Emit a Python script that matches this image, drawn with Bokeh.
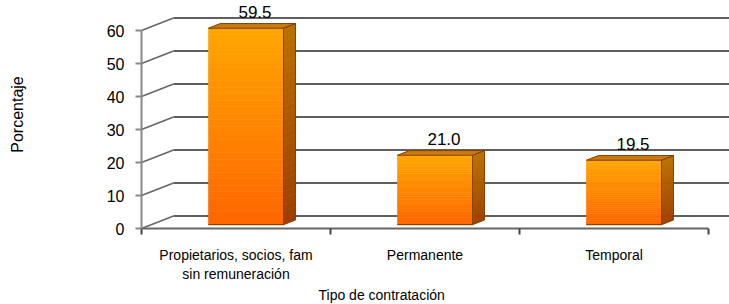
from bokeh.plotting import figure
from bokeh.models import Range1d, FixedTicker, LinearAxis, Title
from bokeh.embed import file_html
from bokeh.resources import INLINE
from bokeh.core.properties import value

# ---- data ----
categories = ["Propietarios, socios, fam\nsin remuneración", "Permanente", "Temporal"]
values = [59.5, 21.0, 19.5]
value_labels = ["59.5", "21.0", "19.5"]
y_ticks = [0, 10, 20, 30, 40, 50, 60]
x_title = "Tipo de contratación"
y_title = "Porcentaje"

# ---- layout / style ----
FONT = "Liberation Sans"
W, H = 729, 304
LEFT, BOTTOM = 141, 76
PX_PER_CAT = 189.0
PX_PER_UNIT = 3.3
frame_w = W - LEFT
frame_h = H - BOTTOM
X0 = -0.5
X1 = X0 + frame_w / PX_PER_CAT
Y1 = frame_h / PX_PER_UNIT

WX = 32 / PX_PER_CAT        # depth of the wall (x, data units)
WY = 12.5 / PX_PER_UNIT     # depth of the wall (y, data units)
F0, F1 = 10 / 32, 22 / 32   # bar front/back depth fraction
HW = 37.5 / PX_PER_CAT      # half bar width
DX = (F1 - F0) * WX
DY = (F1 - F0) * WY

p = figure(width=W, height=H, x_range=Range1d(X0, X1), y_range=Range1d(0, Y1),
           output_backend="svg", toolbar_location=None,
           min_border_left=LEFT, min_border_right=0, min_border_top=0,
           min_border_bottom=BOTTOM, x_axis_type=None, y_axis_type=None)
p.outline_line_color = None
p.background_fill_color = "white"
p.border_fill_color = "white"

# back wall: diagonals and grid lines
n = len(y_ticks)
p.segment(x0=[X0] * n, y0=y_ticks, x1=[X0 + WX] * n, y1=[t + WY for t in y_ticks],
          line_color="#666666", line_width=1.6)
p.segment(x0=[X0 + WX] * n, y0=[t + WY for t in y_ticks], x1=[X1] * n,
          y1=[t + WY for t in y_ticks], line_color="#5f5f5f", line_width=2)

# bars with gradient slices
N = 30
def mix(c0, c1, t):
    return "#%02x%02x%02x" % tuple(int(round(a + (b - a) * t)) for a, b in zip(c0, c1))

front_bot, front_top = (255, 102, 0), (255, 166, 0)
side_bot, side_top = (158, 62, 0), (186, 112, 0)

ql, qr, qb, qt, qc = [], [], [], [], []
sxs, sys_, sc = [], [], []
txs, tys = [], []
oxs, oys = [], []
for i, v in enumerate(values):
    cx = i + F0 * WX
    xl, xr = cx - HW, cx + HW
    yb = F0 * WY
    for k in range(N):
        t0, t1 = k / N, (k + 1) / N
        ya, yz = yb + v * t0, yb + v * t1
        col = mix(front_bot, front_top, (t0 + t1) / 2)
        ql.append(xl); qr.append(xr); qb.append(ya); qt.append(yz); qc.append(col)
        sxs.append([xr, xr + DX, xr + DX, xr])
        sys_.append([ya, ya + DY, yz + DY, yz])
        sc.append(mix(side_bot, side_top, (t0 + t1) / 2))
    yt = yb + v
    txs.append([xl, xr, xr + DX, xl + DX])
    tys.append([yt, yt, yt + DY, yt + DY])
    oxs.append([xl, xr, xr + DX, xr + DX, xr, xl, xl + DX, xr + DX, xr, xr, xl])
    oys.append([yb, yb, yb + DY, yt + DY, yt, yt, yt + DY, yt + DY, yt, yb, yb])

p.quad(left=ql, right=qr, bottom=qb, top=qt, fill_color=qc, line_color=qc, line_width=0.6)
p.patches(xs=sxs, ys=sys_, fill_color=sc, line_color=sc, line_width=0.6)
p.patches(xs=txs, ys=tys, fill_color="#c87a10", line_color="#c87a10", line_width=0.6)
p.multi_line(xs=oxs, ys=oys, line_color="#8a4200", line_width=1)

# value labels
p.text(x=list(range(len(values))), y=values, text=value_labels,
       x_offset=19, y_offset=-20, text_align="center", text_baseline="middle",
       text_font=value(FONT), text_font_size="17px", text_color="black")

# y axis
yax = LinearAxis(ticker=FixedTicker(ticks=y_ticks), bounds=(0, 60))
yax.axis_line_color = "#888888"
yax.axis_line_width = 2
yax.major_tick_line_color = "#888888"
yax.major_tick_line_width = 2
yax.major_tick_out = 6
yax.major_tick_in = 0
yax.minor_tick_out = 0
yax.minor_tick_in = 0
yax.major_label_standoff = 11
yax.major_label_text_font = FONT
yax.major_label_text_font_size = "16px"
yax.major_label_text_color = "black"
yax.axis_label = y_title
yax.axis_label_standoff = 78
yax.axis_label_text_font = FONT
yax.axis_label_text_font_size = "16px"
yax.axis_label_text_font_style = "normal"
yax.axis_label_text_color = "black"
p.add_layout(yax, "left")

# x axis
xax = LinearAxis(ticker=FixedTicker(ticks=[0, 1, 2], minor_ticks=[-0.5, 0.5, 1.5, 2.5]),
                 bounds=(-0.5, 2.5))
xax.major_label_overrides = {i: c for i, c in enumerate(categories)}
xax.axis_line_color = "#666666"
xax.axis_line_width = 2
xax.major_tick_out = 0
xax.major_tick_in = 0
xax.minor_tick_out = 6
xax.minor_tick_in = 0
xax.minor_tick_line_color = "#444444"
xax.minor_tick_line_width = 2
xax.major_label_standoff = 12
xax.major_label_text_font = FONT
xax.major_label_text_font_size = "14px"
xax.major_label_text_color = "black"
p.add_layout(xax, "below")

# x axis title
p.add_layout(Title(text=x_title, align="left", offset=177, standoff=0,
                   text_font=FONT, text_font_size="14px", text_font_style="normal",
                   text_color="black"), "below")

open("out.html", "w").write(file_html(p, INLINE))
